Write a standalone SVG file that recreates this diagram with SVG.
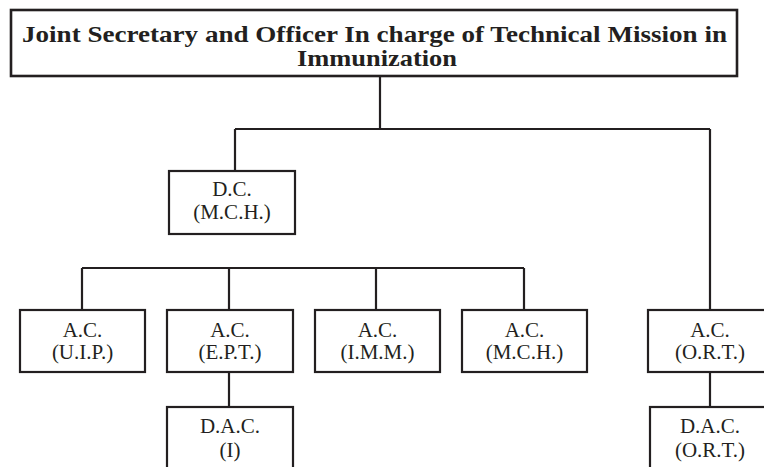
<svg xmlns="http://www.w3.org/2000/svg" width="764" height="467" viewBox="0 0 764 467">
<style>
.box{fill:#fff;stroke:#231f20;stroke-width:2.2}
.top{fill:#fff;stroke:#231f20;stroke-width:2.6}
.ln{fill:none;stroke:#231f20;stroke-width:2.2}
.t{font-family:"Liberation Serif","Times New Roman",serif;font-size:21px;fill:#231f20;text-anchor:middle}
.tt{font-family:"Liberation Serif","Times New Roman",serif;font-size:24px;font-weight:bold;fill:#231f20;text-anchor:middle}
</style>
<rect width="764" height="467" fill="#fff"/>
<g id="connectors">
<path class="ln" d="M380 76V129M235 129H710M235 129V171M710 129V310M82 268H524M82 268V310M229 268V310M376 268V310M524 268V310M229 372V407M710 372V407"/>
</g>
<g id="jsec">
<rect class="top" x="11" y="10" width="726" height="66"/>
<text class="tt" x="374.5" y="42" textLength="705" lengthAdjust="spacingAndGlyphs">Joint Secretary and Officer In charge of Technical Mission in</text>
<text class="tt" x="377" y="66" textLength="160" lengthAdjust="spacingAndGlyphs">Immunization</text>
</g>
<g id="dc-mch">
<rect class="box" x="169" y="171" width="126" height="63"/>
<text class="t" x="232" y="196">D.C.</text>
<text class="t" x="232" y="219">(M.C.H.)</text>
</g>
<g id="ac-uip">
<rect class="box" x="20" y="310" width="125" height="62"/>
<text class="t" x="82.5" y="337">A.C.</text>
<text class="t" x="82.5" y="359">(U.I.P.)</text>
</g>
<g id="ac-ept">
<rect class="box" x="167" y="310" width="126" height="62"/>
<text class="t" x="230" y="337">A.C.</text>
<text class="t" x="230" y="359">(E.P.T.)</text>
</g>
<g id="ac-imm">
<rect class="box" x="315" y="310" width="125" height="62"/>
<text class="t" x="377.5" y="337">A.C.</text>
<text class="t" x="377.5" y="359">(I.M.M.)</text>
</g>
<g id="ac-mch">
<rect class="box" x="462" y="310" width="125" height="62"/>
<text class="t" x="524.5" y="337">A.C.</text>
<text class="t" x="524.5" y="359">(M.C.H.)</text>
</g>
<g id="ac-ort">
<rect class="box" x="648" y="310" width="124" height="62"/>
<text class="t" x="710" y="337">A.C.</text>
<text class="t" x="710" y="359">(O.R.T.)</text>
</g>
<g id="dac-i">
<rect class="box" x="167" y="407" width="126" height="70"/>
<text class="t" x="230" y="433">D.A.C.</text>
<text class="t" x="230" y="457">(I)</text>
</g>
<g id="dac-ort">
<rect class="box" x="650" y="407" width="124" height="70"/>
<text class="t" x="710" y="433">D.A.C.</text>
<text class="t" x="710" y="457">(O.R.T.)</text>
</g>
</svg>
